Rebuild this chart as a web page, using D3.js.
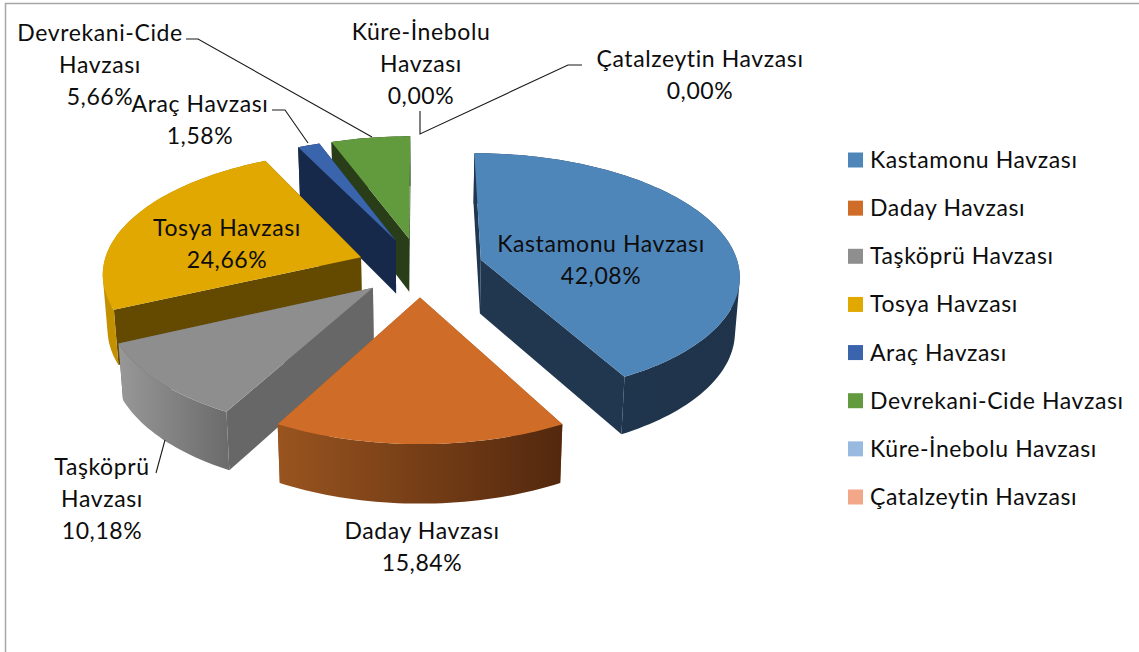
<!DOCTYPE html>
<html><head><meta charset="utf-8">
<script src="https://cdn.jsdelivr.net/npm/d3@7/dist/d3.min.js"></script>
<style>html,body{margin:0;padding:0;background:#fff}svg{display:block}text{font-family:Lato,"Open Sans",sans-serif;fill:#0d0d0d;letter-spacing:.6px}</style>
</head><body><svg id="c" width="1139" height="652"></svg>
<script>
const categories=["Kastamonu Havzası","Daday Havzası","Taşköprü Havzası","Tosya Havzası","Araç Havzası","Devrekani-Cide Havzası","Küre-İnebolu Havzası","Çatalzeytin Havzası"];
const values=[42.08,15.84,10.18,24.66,1.58,5.66,0,0];
const topColors=["#4F86BA","#CE6C28","#8E8E8E","#E0A800","#3A64AC","#629A3E","#98B9E0","#F2A888"];
const sideColors=["#21374F","#96521F","#676767","#634A00","#17294A","#283D18","#5A7FA8","#A87050"];
const curveLeft=["#21374F","#99541F","#989898","#C49200","#17294A","#283D18","#5A7FA8","#A87050"];
const curveRight=["#1F344B","#53280E","#6C6C6C","#A87E00","#17294A","#283D18","#5A7FA8","#A87050"];
const drawOrder=[5,4,3,2,0,1];
const labelLines=[["Kastamonu Havzası"],["Daday Havzası"],["Taşköprü","Havzası"],["Tosya Havzası"],["Araç Havzası"],["Devrekani-Cide","Havzası"],["Küre-İnebolu","Havzası"],["Çatalzeytin Havzası"]];
const labelAnchor=[[601,252],[422,539],[102,475],[227,236],[200,112],[100,41],[421,40],[700,67]];
const lineStep=32;
const leaders=[[[186,39],[198,39],[372,137]],[[272,110],[285,110],[308,143]],[[582,65],[568,65],[420,134],[420,111]],[[165,440],[156,473]]];

const svg=d3.select("#c");
const Cx=420,Cy=267,Ax=258,Ay=121,persp=.12,explode=.245,depth=54;
const pie=d3.pie().sort(null).startAngle(0).endAngle(2*Math.PI)(values);
function project(x,y,z){const f=1+persp*y;return [Cx+Ax*x/f*(1-.015*z),Cy-Ay*y/f+z*depth*Math.pow(f,-.6)];}
const path=d3.line();
const defs=svg.append("defs");

// frame
svg.append("path").attr("d","M5.5,652V3.5H1139").attr("fill","none").attr("stroke","#a6a6a6").attr("stroke-width",1.5);

const g=svg.append("g");
drawOrder.forEach(i=>{
  const a=pie[i]; if(a.value<=0) return;
  const mid=(a.startAngle+a.endAngle)/2, ox=explode*Math.sin(mid), oy=explode*Math.cos(mid);
  const n=Math.max(4,Math.ceil((a.endAngle-a.startAngle)*40));
  const angs=d3.range(n+1).map(k=>a.startAngle+(a.endAngle-a.startAngle)*k/n);
  const pt=(t,z)=>project(ox+Math.sin(t),oy+Math.cos(t),z);
  const apex=z=>project(ox,oy,z);
  const faces=[a.startAngle,a.endAngle].map(t=>[apex(0),pt(t,0),pt(t,1),apex(1)]);
  faces.sort((p,q)=>d3.mean(p,d=>d[1])-d3.mean(q,d=>d[1]));
  const sl=g.append("g");
  faces.forEach(f=>sl.append("path").attr("d",path(f)+"Z").attr("fill",sideColors[i]));
  const top=angs.map(t=>pt(t,0)), xs=top.map(d=>d[0]), id="grad"+i;
  const gr=defs.append("linearGradient").attr("id",id).attr("gradientUnits","userSpaceOnUse")
    .attr("x1",d3.min(xs)).attr("x2",d3.max(xs)).attr("y1",0).attr("y2",0);
  gr.append("stop").attr("offset",0).attr("stop-color",curveLeft[i]);
  gr.append("stop").attr("offset",1).attr("stop-color",curveRight[i]);
  // curved wall: union of consistently wound strips so the silhouette stays tangent
  const strips=d3.pairs(angs).map(([t0,t1])=>{
    const q=[pt(t0,0),pt(t1,0),pt(t1,1),pt(t0,1)];
    if(d3.polygonArea(q)<0) q.reverse();
    return path(q)+"Z";
  }).join("");
  sl.append("path").attr("d",strips).attr("fill",`url(#${id})`);
  sl.append("path").attr("d",path([apex(0)].concat(top))+"Z").attr("fill",topColors[i]);
});

// leaders
svg.append("g").selectAll("path").data(leaders).join("path")
  .attr("d",d=>path(d)).attr("fill","none").attr("stroke","#1a1a1a").attr("stroke-width",1.1);

// labels
const fs=23;
const lab=svg.append("g").attr("font-size",fs).attr("text-anchor","middle");
categories.forEach((c,i)=>{
  const lines=labelLines[i].concat([values[i].toFixed(2).replace(".",",")+"%"]);
  const t=lab.append("text");
  lines.forEach((s,k)=>t.append("tspan").attr("x",labelAnchor[i][0]).attr("y",labelAnchor[i][1]+k*lineStep).text(s));
});

// legend
const ly=d3.scalePoint().domain(categories).range([160,497]);
const leg=svg.append("g").selectAll("g").data(categories).join("g").attr("transform",d=>`translate(0,${ly(d)})`);
leg.append("rect").attr("x",848).attr("y",-7.5).attr("width",15).attr("height",15).attr("fill",(d,i)=>topColors[i]);
leg.append("text").attr("x",870).attr("y",8).attr("font-size",fs).text(d=>d);
</script></body></html>
